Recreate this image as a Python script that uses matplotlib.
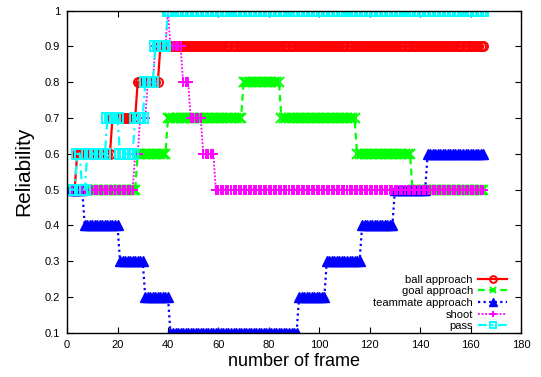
import numpy as np
import matplotlib
matplotlib.use("Agg")
import matplotlib.pyplot as plt

plt.rcParams['font.family'] = ['Liberation Sans', 'DejaVu Sans']

# frames 1..165, each series is a step function: level and the frame where it starts
frames = np.arange(1, 166)

ball_levels = [0.5, 0.6, 0.7, 0.8, 0.9]
ball_starts = [1, 4, 18, 28, 37]

goal_levels = [0.5, 0.6, 0.7, 0.8, 0.7, 0.6, 0.5]
goal_starts = [1, 28, 40, 70, 85, 115, 137]

team_levels = [0.5, 0.4, 0.3, 0.2, 0.1, 0.2, 0.3, 0.4, 0.5, 0.6]
team_starts = [1, 7, 21, 31, 41, 92, 103, 117, 130, 143]

shoot_levels = [0.5, 0.6, 0.7, 0.8, 0.9, 1.0, 0.9, 0.8, 0.7, 0.6, 0.5]
shoot_starts = [1, 27, 29, 32, 35, 40, 41, 46, 49, 54, 59]

pass_levels = [0.5, 0.6, 0.5, 0.6, 0.7, 0.6, 0.7, 0.8, 0.9, 1.0]
pass_starts = [1, 4, 6, 8, 16, 21, 27, 31, 35, 40]

x_ticks = [0, 20, 40, 60, 80, 100, 120, 140, 160, 180]
y_ticks = [0.1, 0.2, 0.3, 0.4, 0.5, 0.6, 0.7, 0.8, 0.9, 1.0]


def expand(levels, starts):
    idx = np.searchsorted(starts, frames, side='right') - 1
    return np.array(levels)[idx]


fig = plt.figure(figsize=(5.41, 3.77), dpi=100)
ax = fig.add_axes([0.124, 0.117, 0.839, 0.855])

ms = 6.5
ax.plot(frames, expand(ball_levels, ball_starts), color='#ff0000', ls='-', lw=1.6,
        marker='o', ms=ms, mfc='none', mew=1.4, label='ball approach')
ax.plot(frames, expand(goal_levels, goal_starts), color='#00ff00', ls=(0, (3, 2)), lw=1.6,
        marker='x', ms=ms, mew=1.4, label='goal approach')
ax.plot(frames, expand(team_levels, team_starts), color='#0000ff', ls=(0, (1, 1.5)), lw=1.6,
        marker='^', ms=ms + 0.5, mew=1.0, label='teammate approach')
ax.plot(frames, expand(shoot_levels, shoot_starts), color='#ff00ff', ls=(0, (1, 1)), lw=1.3,
        marker='+', ms=ms, mew=1.4, label='shoot')
ax.plot(frames, expand(pass_levels, pass_starts), color='#00ffff', ls=(0, (4, 2, 1, 2)), lw=1.6,
        marker='s', ms=ms, mfc='none', mew=1.4, label='pass')

ax.set_xlim(0, 180)
ax.set_ylim(0.1, 1.0)
ax.set_xticks(x_ticks)
ax.set_yticks(y_ticks)
ax.set_yticklabels(['%g' % v for v in y_ticks])
ax.tick_params(direction='in', length=4, width=0.8, top=True, right=True,
               labelsize=8, pad=5)
for s in ax.spines.values():
    s.set_linewidth(1.0)

ax.set_xlabel('number of frame', fontsize=13, labelpad=2)
ax.set_ylabel('Reliability', fontsize=15, labelpad=8)

ax.legend(loc='lower right', bbox_to_anchor=(0.97, 0.005), markerfirst=False,
          frameon=False, fontsize=8, handlelength=2.6, handletextpad=0.5,
          labelspacing=0.15, borderaxespad=0, borderpad=0, markerscale=0.75)

fig.savefig('out.png', dpi=100)
